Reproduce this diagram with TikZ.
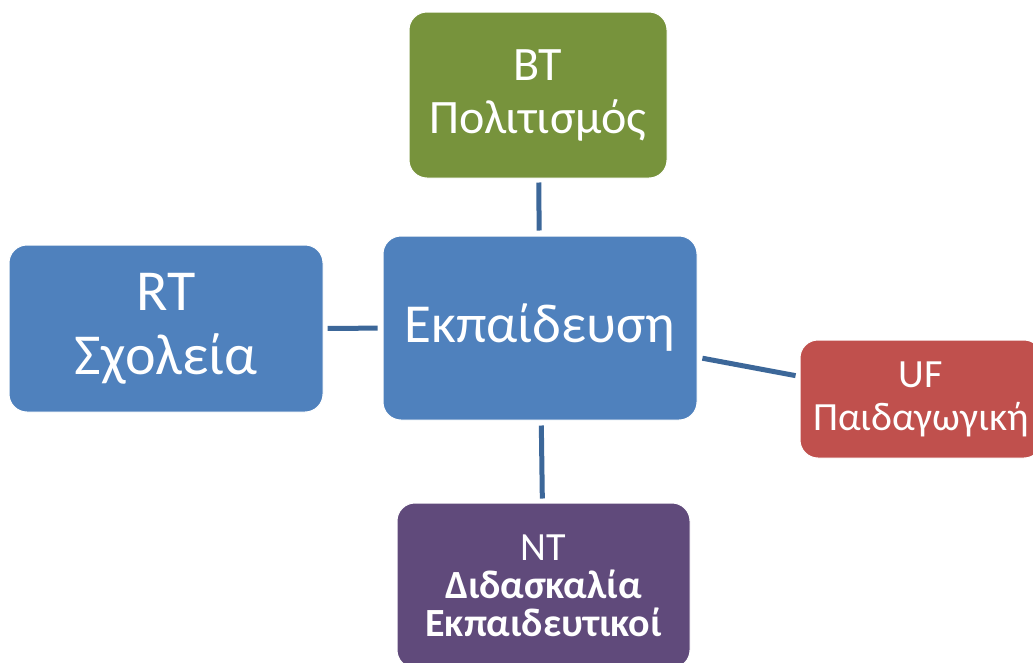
\documentclass[tikz,border=0pt]{standalone}
\usepackage{fontspec}
\setmainfont{Carlito}
\definecolor{cblue}{HTML}{4F81BD}
\definecolor{cgreen}{HTML}{77933C}
\definecolor{cred}{HTML}{C0504D}
\definecolor{cpurple}{HTML}{604A7B}
\definecolor{linkc}{RGB}{60,103,153}
\begin{document}
\begin{tikzpicture}[x=1pt,y=-1pt,
  box/.style={rectangle, rounded corners=18pt, draw=white, line width=1pt, text=white, align=center, inner sep=0pt},
  conn/.style={draw=linkc, line width=5pt, shorten <=5pt, shorten >=4pt}]
\clip (0,0) rectangle (1033,662);
\fill[white] (0,0) rectangle (1033,662);
\node[box, fill=cgreen, minimum width=258pt, minimum height=166pt, font=\fontsize{48}{53}\selectfont] (bt) at (538,95) {BT\\Πολιτισμός};
\node[box, fill=cblue, minimum width=314pt, minimum height=184pt, font=\fontsize{55}{60}\selectfont] (ed) at (540,328) {Εκπαίδευση};
\node[box, fill=cblue, minimum width=314pt, minimum height=167pt, font=\fontsize{58}{64}\selectfont] (rt) at (166,328.5) {RT\\Σχολεία};
\node[box, fill=cred, minimum width=242pt, minimum height=118pt, font=\fontsize{40}{43}\selectfont] (uf) at (921,399) {UF\\Παιδαγωγική};
\node[box, fill=cpurple, minimum width=293pt, minimum height=165pt, font=\fontsize{40}{38}\selectfont] (nt) at (543.5,585.5) {NT\\\textbf{Διδασκαλία}\\\textbf{Εκπαιδευτικοί}};
\draw[conn] (ed) -- (bt);
\draw[conn] (ed) -- (rt);
\draw[conn] (ed) -- (uf);
\draw[conn] (ed) -- (nt);
\end{tikzpicture}
\end{document}
